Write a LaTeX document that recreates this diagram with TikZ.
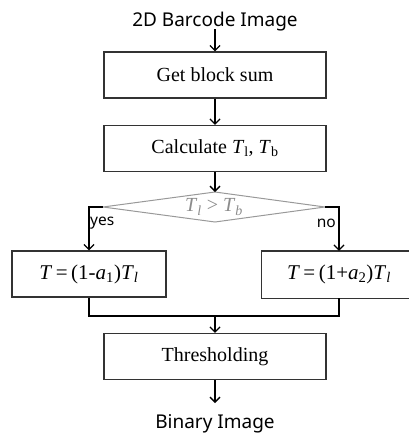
\documentclass[tikz,border=0pt]{standalone}
\usepackage{fontspec}
\setmainfont{Liberation Serif}
\newfontfamily\labelsans{Noto Sans}
\usetikzlibrary{arrows.meta}
\tikzset{
  box/.style={draw=black!80, line width=1.3pt, fill=white, minimum width=222pt, minimum height=46pt, inner sep=0pt, font=\fontsize{20}{24}\selectfont},
  sidebox/.style={box, minimum width=154pt, font=\fontsize{21}{24}\selectfont},
  boxline/.style={draw=black!80, line width=1.3pt},
  lbl/.style={font=\labelsans\fontsize{19}{22}\selectfont, inner sep=0pt},
  small/.style={font=\labelsans\fontsize{15.5}{18}\selectfont, inner sep=0pt},
  conn/.style={line width=1.4pt, -{Straight Barb[length=5pt,width=10pt,line width=1.3pt]}},
  plain/.style={line width=1.4pt},
  dia/.style={draw=black!40, line width=1pt},
  dtext/.style={text=black!45, inner sep=0pt, font=\fontsize{20}{24}\selectfont}
}
\begin{document}
\begin{tikzpicture}[x=1pt,y=-1pt]
\useasboundingbox (0,0) rectangle (409,434);
\node[lbl, anchor=base] (in) at (215,26) {2D Barcode Image};
\coordinate (inbot) at (215,29);
\node[box] (b1) at (215,75) {Get block sum};
\node[box] (b2) at (215,148.5) {Calculate \textit{T}\textsubscript{l}, \textit{T}\textsubscript{b}};
\coordinate (dT) at (215,192);
\coordinate (dR) at (325,207);
\coordinate (dB) at (215,222);
\coordinate (dL) at (103,207);
\draw[dia] (dT) -- (dR) -- (dB) -- (dL) -- cycle;
\node[dtext] (dec) at (214,207) {\textit{T}\textsubscript{\textit{l}} > \textit{T}\textsubscript{\textit{b}}};
\node[sidebox] (yb) at (89,274) {\textit{T}\,=\,(1-\textit{a}\textsubscript{1})\textit{T}\textsubscript{\textit{l}}};
\node[sidebox, draw=none] (nb) at (339,274.5) {\textit{T}\,=\,(1+\textit{a}\textsubscript{2})\textit{T}\textsubscript{\textit{l}}};
\coordinate (edge) at (408.5,0);
\draw[boxline] (nb.north -| edge) -- (nb.north west) -- (nb.south west) -- (nb.south -| edge);
\node[box] (th) at (215,356.5) {Thresholding};
\node[lbl, anchor=base] (out) at (215,428) {Binary Image};
\coordinate (outtop) at (215,403);
\coordinate (m) at (215,316);
\node[small, anchor=west] (yes) at (90,223) {yes};
\node[small, anchor=east] (no) at (336,223) {no};
\draw[conn] (inbot) -- (b1.north);
\draw[conn] (b1.south) -- (b2.north);
\draw[conn] (b2.south) -- (dT);
\draw[conn] (dL) -| (yb.north);
\draw[conn] (dR) -| (nb.north);
\draw[plain] (yb.south) -- (yb.south |- m) -- (nb.south |- m) -- (nb.south);
\draw[conn] (m) -- (th.north);
\draw[conn] (th.south) -- (outtop);
\end{tikzpicture}
\end{document}
